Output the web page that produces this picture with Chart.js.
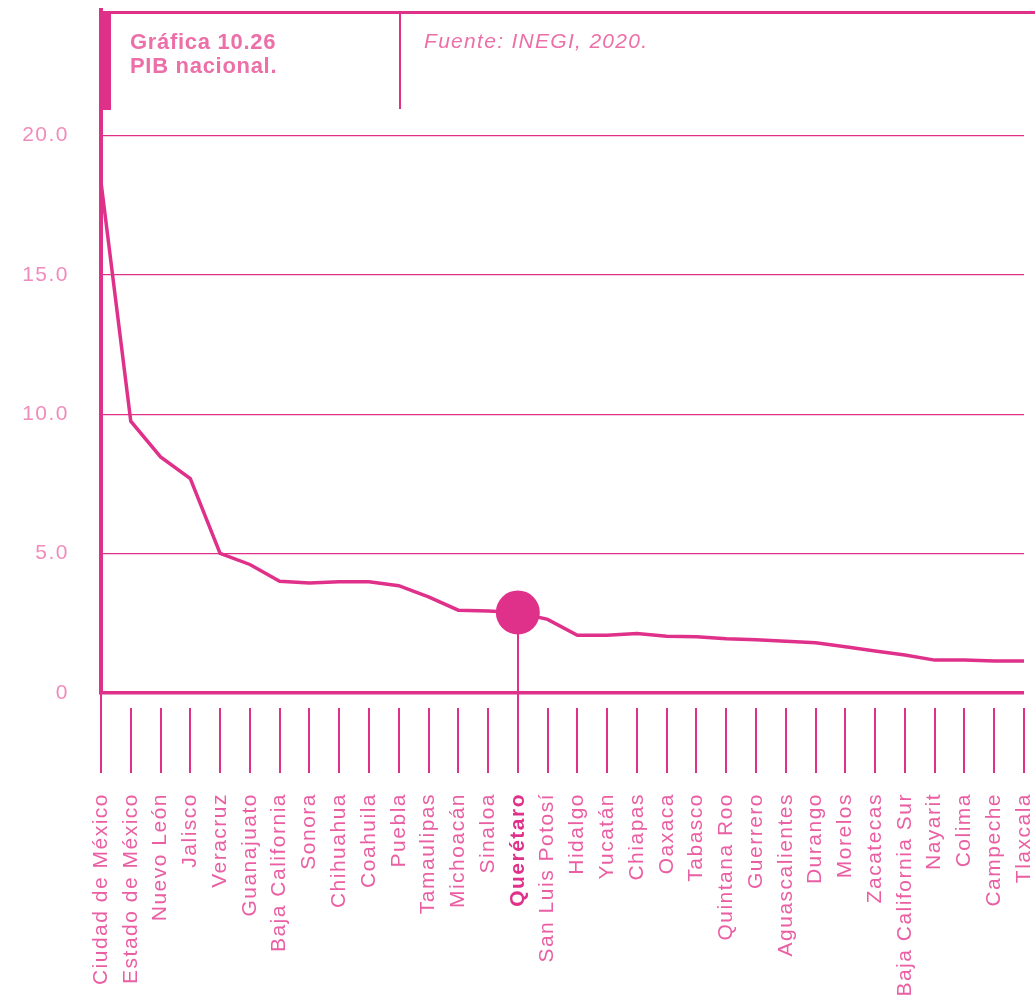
<!DOCTYPE html>
<html>
<head>
<meta charset="utf-8">
<script src="https://cdn.jsdelivr.net/npm/chart.js@4.4.1/dist/chart.umd.min.js"></script>
<style>
  body { margin: 0; background: #fff; }
  #wrap { position: relative; width: 1035px; height: 995px; overflow: hidden; }
  #chart { position: absolute; left: 0; top: 0; }
  .hline { position: absolute; left: 100px; top: 11px; width: 935px; height: 3px; background: #E0318A; }
  .bar { position: absolute; left: 99px; top: 11px; width: 12px; height: 99px; background: #E0318A; }
  .vline { position: absolute; left: 399px; top: 11px; width: 2px; height: 98px; background: #E0318A; }
  .titulo { position: absolute; left: 130px; top: 30px; font: bold 22px "Liberation Sans", Arial, sans-serif; line-height: 24px; color: #EC6FA8; letter-spacing: 0.7px; }
  .fuente { position: absolute; left: 424px; top: 29px; font: italic 21px "Liberation Sans", Arial, sans-serif; color: #EC6FA8; letter-spacing: 1.3px; }
</style>
</head>
<body>
<div id="wrap">
  <canvas id="chart" width="1035" height="995"></canvas>
  <div class="hline"></div>
  <div class="bar"></div>
  <div class="vline"></div>
  <div class="titulo">Gráfica 10.26<br>PIB nacional.</div>
  <div class="fuente">Fuente: INEGI, 2020.</div>
</div>
<script>
const estados = ['Ciudad de México', 'Estado de México', 'Nuevo León', 'Jalisco', 'Veracruz', 'Guanajuato',
  'Baja California', 'Sonora', 'Chihuahua', 'Coahuila', 'Puebla', 'Tamaulipas', 'Michoacán', 'Sinaloa',
  'Querétaro', 'San Luis Potosí', 'Hidalgo', 'Yucatán', 'Chiapas', 'Oaxaca', 'Tabasco', 'Quintana Roo',
  'Guerrero', 'Aguascalientes', 'Durango', 'Morelos', 'Zacatecas', 'Baja California Sur', 'Nayarit',
  'Colima', 'Campeche', 'Tlaxcala'];
const pib = [18.33, 9.75, 8.47, 7.69, 5.01, 4.61, 4.01, 3.95, 3.99, 3.99, 3.85, 3.45, 2.97, 2.94,
  2.89, 2.64, 2.07, 2.07, 2.13, 2.04, 2.02, 1.95, 1.91, 1.86, 1.80, 1.66, 1.51, 1.36, 1.18,
  1.18, 1.15, 1.15];
const destacado = 'Querétaro';
const yTicks = [0, 5, 10, 15, 20];

const ROSA = '#E0318A';
const ROSA_TXT = '#EA5FA3';
const ROSA_CLARO = '#F08CBC';
const iDest = estados.indexOf(destacado);

// canvas letterSpacing gets reset with the context, so set it again before each pass
const espaciado = {
  id: 'espaciado',
  beforeUpdate(chart) { chart.ctx.letterSpacing = '1.5px'; },
  beforeLayout(chart) { chart.ctx.letterSpacing = '1.5px'; },
  beforeDraw(chart) { chart.ctx.letterSpacing = '1.5px'; }
};

// little vertical marks under the axis, plus the drop line for the highlighted state
const marcas = {
  id: 'marcas',
  beforeDatasetsDraw(chart) {
    const { ctx, scales: { x, y } } = chart;
    const base = y.getPixelForValue(0);
    ctx.save();
    ctx.strokeStyle = ROSA;
    ctx.lineWidth = 2;
    estados.forEach((e, i) => {
      const px = Math.round(x.getPixelForValue(i));
      let y0 = base + 15;
      if (i === 0) y0 = base;
      if (i === iDest) y0 = y.getPixelForValue(pib[i]);
      ctx.beginPath();
      ctx.moveTo(px, y0);
      ctx.lineTo(px, base + 80);
      ctx.stroke();
    });
    ctx.restore();
  }
};

new Chart(document.getElementById('chart'), {
  type: 'line',
  data: {
    labels: estados,
    datasets: [{
      data: pib,
      borderColor: ROSA,
      borderWidth: 3.5,
      tension: 0,
      pointRadius: estados.map((e, i) => i === iDest ? 22 : 0),
      pointHoverRadius: estados.map((e, i) => i === iDest ? 22 : 0),
      pointBackgroundColor: ROSA,
      pointBorderWidth: 0
    }]
  },
  options: {
    responsive: false,
    animation: false,
    layout: { padding: { top: 10, right: 11, left: 0, bottom: 0 } },
    plugins: { legend: { display: false }, tooltip: { enabled: false } },
    scales: {
      x: {
        type: 'category',
        offset: false,
        grid: { display: false, drawTicks: false },
        border: { display: false },
        ticks: {
          autoSkip: false,
          minRotation: 90,
          maxRotation: 90,
          padding: 100,
          color: (c) => c.index === iDest ? ROSA : ROSA_TXT,
          font: (c) => ({ family: '"Liberation Sans", Arial, sans-serif', size: 21, weight: c.index === iDest ? 'bold' : 'normal' })
        },
        afterFit(scale) {
          scale.height = 302;
          scale.paddingLeft = 0;
          scale.paddingRight = 0;
        }
      },
      y: {
        min: 0,
        max: 24.5,
        afterBuildTicks(scale) { scale.ticks = yTicks.map(v => ({ value: v })); },
        afterFit(scale) {
          scale.width = 101;
          scale.paddingTop = 0;
          scale.paddingBottom = 0;
        },
        border: { display: true, color: ROSA, width: 4 },
        grid: {
          drawTicks: false,
          color: ROSA,
          lineWidth: (c) => c.tick && c.tick.value === 0 ? 3.5 : 1.2
        },
        ticks: {
          padding: 32,
          color: ROSA_CLARO,
          font: { family: '"Liberation Sans", Arial, sans-serif', size: 21 },
          callback: (v) => v === 0 ? '0' : v.toFixed(1)
        }
      }
    }
  },
  plugins: [espaciado, marcas]
});
</script>
</body>
</html>
